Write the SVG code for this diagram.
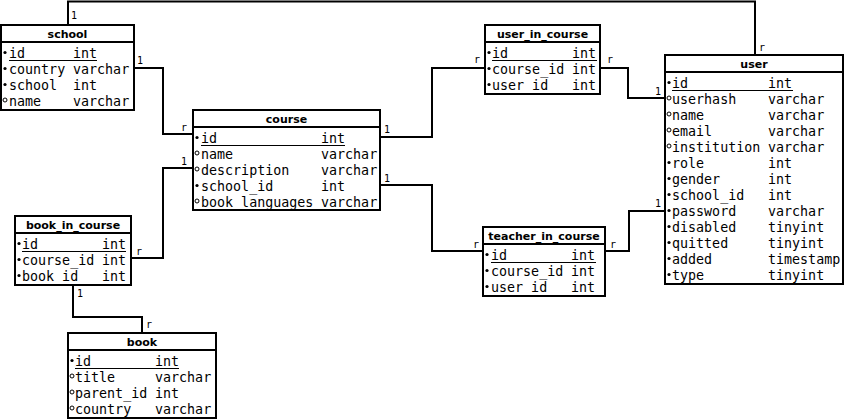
<svg xmlns="http://www.w3.org/2000/svg" width="846" height="420" viewBox="0 0 846 420">
<style>
.box{fill:#fff;stroke:#000;stroke-width:2}
.sep{stroke:#000;stroke-width:2}
.ul{stroke:#000;stroke-width:1}
.hd{font-family:"DejaVu Sans",sans-serif;font-weight:bold;font-size:11px;text-anchor:middle;fill:#000}
.f{font-family:"DejaVu Sans Mono",monospace;font-size:13.33px;fill:#000}
.lb{font-family:"DejaVu Sans Mono",monospace;font-size:10px;fill:#000}
.nn{fill:#000}
.nl{fill:#fff;stroke:#000;stroke-width:1}
.cn{fill:none;stroke:#000;stroke-width:2}
</style>
<rect width="846" height="420" fill="#fff"/>
<g id="connectors">
<polyline class="cn" points="68,25 68,1.5 755,1.5 755,55"/>
<polyline class="cn" points="134,68 163,68 163,134 193,134"/>
<polyline class="cn" points="193,168 163,168 163,258 131,258"/>
<polyline class="cn" points="380,137 432,137 432,68 485,68"/>
<polyline class="cn" points="380,185 432,185 432,251 483,251"/>
<polyline class="cn" points="600,68 628,68 628,98 665,98"/>
<polyline class="cn" points="605,251 629,251 629,211 665,211"/>
<polyline class="cn" points="73,285 73,317 142,317 142,333"/>
<text class="lb" x="71" y="19">1</text>
<text class="lb" x="759" y="51">r</text>
<text class="lb" x="137" y="64">1</text>
<text class="lb" x="181" y="131">r</text>
<text class="lb" x="181" y="165">1</text>
<text class="lb" x="136" y="255">r</text>
<text class="lb" x="384" y="133">1</text>
<text class="lb" x="474" y="63">r</text>
<text class="lb" x="384" y="182">1</text>
<text class="lb" x="473" y="248">r</text>
<text class="lb" x="607" y="63">r</text>
<text class="lb" x="655" y="95">1</text>
<text class="lb" x="610" y="248">r</text>
<text class="lb" x="655" y="207">1</text>
<text class="lb" x="77" y="297">1</text>
<text class="lb" x="146" y="328">r</text>
</g>
<g id="school">
<rect class="box" x="1" y="25" width="133" height="85"/>
<line class="sep" x1="1" y1="42" x2="134" y2="42"/>
<text class="hd" x="67.5" y="38">school</text>
<circle class="nn" cx="5" cy="52.5" r="1.6"/><text class="f" x="9" y="58">id</text><text class="f" x="73" y="58">int</text>
<line class="ul" x1="9" y1="60.5" x2="97" y2="60.5"/>
<circle class="nn" cx="5" cy="68.5" r="1.6"/><text class="f" x="9" y="74">country</text><text class="f" x="73" y="74">varchar</text>
<circle class="nn" cx="5" cy="84.5" r="1.6"/><text class="f" x="9" y="90">school</text><text class="f" x="73" y="90">int</text>
<circle class="nl" cx="5" cy="100" r="2"/><text class="f" x="9" y="106">name</text><text class="f" x="73" y="106">varchar</text>
</g>
<g id="course">
<rect class="box" x="193" y="110" width="187" height="100"/>
<line class="sep" x1="193" y1="127" x2="380" y2="127"/>
<text class="hd" x="286.5" y="123">course</text>
<circle class="nn" cx="197" cy="137.5" r="1.6"/><text class="f" x="201" y="143">id</text><text class="f" x="321" y="143">int</text>
<line class="ul" x1="201" y1="145.5" x2="345" y2="145.5"/>
<circle class="nl" cx="197" cy="153" r="2"/><text class="f" x="201" y="159">name</text><text class="f" x="321" y="159">varchar</text>
<circle class="nl" cx="197" cy="169" r="2"/><text class="f" x="201" y="175">description</text><text class="f" x="321" y="175">varchar</text>
<circle class="nn" cx="197" cy="185.5" r="1.6"/><text class="f" x="201" y="191">school_id</text><text class="f" x="321" y="191">int</text>
<circle class="nl" cx="197" cy="201" r="2"/><text class="f" x="201" y="207">book_languages</text><text class="f" x="321" y="207">varchar</text>
</g>
<g id="user_in_course">
<rect class="box" x="485" y="25" width="115" height="69"/>
<line class="sep" x1="485" y1="42" x2="600" y2="42"/>
<text class="hd" x="542.5" y="38">user_in_course</text>
<circle class="nn" cx="489" cy="52.5" r="1.6"/><text class="f" x="492" y="58">id</text><text class="f" x="572" y="58">int</text>
<line class="ul" x1="492" y1="60.5" x2="597" y2="60.5"/>
<circle class="nn" cx="489" cy="68.5" r="1.6"/><text class="f" x="492" y="74">course_id</text><text class="f" x="572" y="74">int</text>
<circle class="nn" cx="489" cy="84.5" r="1.6"/><text class="f" x="492" y="90">user_id</text><text class="f" x="572" y="90">int</text>
</g>
<g id="user">
<rect class="box" x="665" y="55" width="178" height="229"/>
<line class="sep" x1="665" y1="72" x2="843" y2="72"/>
<text class="hd" x="754" y="68">user</text>
<circle class="nn" cx="669" cy="82.5" r="1.6"/><text class="f" x="672" y="88">id</text><text class="f" x="768" y="88">int</text>
<line class="ul" x1="672" y1="90.5" x2="793" y2="90.5"/>
<circle class="nl" cx="669" cy="98" r="2"/><text class="f" x="672" y="104">userhash</text><text class="f" x="768" y="104">varchar</text>
<circle class="nl" cx="669" cy="114" r="2"/><text class="f" x="672" y="120">name</text><text class="f" x="768" y="120">varchar</text>
<circle class="nl" cx="669" cy="130" r="2"/><text class="f" x="672" y="136">email</text><text class="f" x="768" y="136">varchar</text>
<circle class="nl" cx="669" cy="146" r="2"/><text class="f" x="672" y="152">institution</text><text class="f" x="768" y="152">varchar</text>
<circle class="nn" cx="669" cy="162.5" r="1.6"/><text class="f" x="672" y="168">role</text><text class="f" x="768" y="168">int</text>
<circle class="nn" cx="669" cy="178.5" r="1.6"/><text class="f" x="672" y="184">gender</text><text class="f" x="768" y="184">int</text>
<circle class="nn" cx="669" cy="194.5" r="1.6"/><text class="f" x="672" y="200">school_id</text><text class="f" x="768" y="200">int</text>
<circle class="nn" cx="669" cy="210.5" r="1.6"/><text class="f" x="672" y="216">password</text><text class="f" x="768" y="216">varchar</text>
<circle class="nn" cx="669" cy="226.5" r="1.6"/><text class="f" x="672" y="232">disabled</text><text class="f" x="768" y="232">tinyint</text>
<circle class="nn" cx="669" cy="242.5" r="1.6"/><text class="f" x="672" y="248">quitted</text><text class="f" x="768" y="248">tinyint</text>
<circle class="nn" cx="669" cy="258.5" r="1.6"/><text class="f" x="672" y="264">added</text><text class="f" x="768" y="264">timestamp</text>
<circle class="nn" cx="669" cy="274.5" r="1.6"/><text class="f" x="672" y="280">type</text><text class="f" x="768" y="280">tinyint</text>
</g>
<g id="teacher_in_course">
<rect class="box" x="483" y="227" width="122" height="69"/>
<line class="sep" x1="483" y1="244" x2="605" y2="244"/>
<text class="hd" x="544" y="240">teacher_in_course</text>
<circle class="nn" cx="487" cy="254.5" r="1.6"/><text class="f" x="491" y="260">id</text><text class="f" x="571" y="260">int</text>
<line class="ul" x1="491" y1="262.5" x2="596" y2="262.5"/>
<circle class="nn" cx="487" cy="270.5" r="1.6"/><text class="f" x="491" y="276">course_id</text><text class="f" x="571" y="276">int</text>
<circle class="nn" cx="487" cy="286.5" r="1.6"/><text class="f" x="491" y="292">user_id</text><text class="f" x="571" y="292">int</text>
</g>
<g id="book_in_course">
<rect class="box" x="15" y="216" width="116" height="69"/>
<line class="sep" x1="15" y1="233" x2="131" y2="233"/>
<text class="hd" x="73" y="229">book_in_course</text>
<circle class="nn" cx="19" cy="243.5" r="1.6"/><text class="f" x="22" y="249">id</text><text class="f" x="102" y="249">int</text>
<line class="ul" x1="22" y1="251.5" x2="126" y2="251.5"/>
<circle class="nn" cx="19" cy="259.5" r="1.6"/><text class="f" x="22" y="265">course_id</text><text class="f" x="102" y="265">int</text>
<circle class="nn" cx="19" cy="275.5" r="1.6"/><text class="f" x="22" y="281">book_id</text><text class="f" x="102" y="281">int</text>
</g>
<g id="book">
<rect class="box" x="68" y="333" width="148" height="85"/>
<line class="sep" x1="68" y1="350" x2="216" y2="350"/>
<text class="hd" x="142" y="346">book</text>
<circle class="nn" cx="72" cy="360.5" r="1.6"/><text class="f" x="75" y="366">id</text><text class="f" x="155" y="366">int</text>
<line class="ul" x1="75" y1="368.5" x2="179" y2="368.5"/>
<circle class="nl" cx="72" cy="376" r="2"/><text class="f" x="75" y="382">title</text><text class="f" x="155" y="382">varchar</text>
<circle class="nl" cx="72" cy="392" r="2"/><text class="f" x="75" y="398">parent_id</text><text class="f" x="155" y="398">int</text>
<circle class="nl" cx="72" cy="408" r="2"/><text class="f" x="75" y="414">country</text><text class="f" x="155" y="414">varchar</text>
</g>
</svg>
